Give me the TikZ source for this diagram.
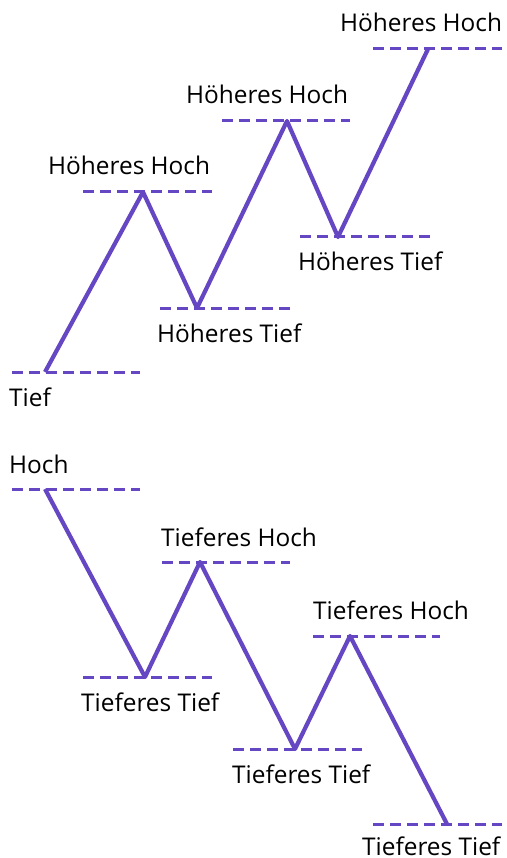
\documentclass[tikz,border=0pt]{standalone}
\usepackage{fontspec}
\setmainfont{Open Sans}
\usetikzlibrary{positioning}
\definecolor{trendviolet}{HTML}{6546C3}
\tikzset{
  level/.style={trendviolet, line width=3pt, dash pattern=on 11pt off 6pt},
  trend/.style={trendviolet, line width=4.2pt, line join=round},
  tag/.style={inner sep=0pt, anchor=base west, font=\fontsize{24.4}{29}\selectfont}
}

\begin{document}
\begin{tikzpicture}[x=1pt, y=-1pt]
      \useasboundingbox (0,0) rectangle (506,858);

      % Aufwaertstrend
      \coordinate (t0) at (45,372);
      \coordinate (h1) at (143,192);
      \coordinate (t1) at (197,308);
      \coordinate (h2) at (287,121);
      \coordinate (t2) at (338,237);
      \coordinate (h3) at (428,49);

      \draw [level] (12,372) -- (140,372);
      \draw [level] (83,192) -- (212,192);
      \draw [level] (160,308) -- (290,308);
      \draw [level] (222,121) -- (350,121);
      \draw [level] (300,237) -- (430,237);
      \draw [level] (373,49) -- (502,49);

      \draw [trend] (t0) -- (h1) -- (t1) -- (h2) -- (t2) -- (h3);

      \node [tag] (tief) at (9,406) {Tief};
      \node [tag] (hh1) at (48,175) {Höheres Hoch};
      \node [tag] (ht1) at (157,342) {Höheres Tief};
      \node [tag] (hh2) at (186,104) {Höheres Hoch};
      \node [tag] (ht2) at (298,271) {Höheres Tief};
      \node [tag] (hh3) at (340,32) {Höheres Hoch};

      % Abwaertstrend
      \coordinate (d0) at (45,489);
      \coordinate (l1) at (145,677);
      \coordinate (u1) at (200,562);
      \coordinate (l2) at (295,749);
      \coordinate (u2) at (350,636);
      \coordinate (l3) at (447,824);

      \draw [level] (12,489) -- (140,489);
      \draw [level] (83,677) -- (212,677);
      \draw [level] (162,562) -- (290,562);
      \draw [level] (233,749) -- (362,749);
      \draw [level] (313,636) -- (440,636);
      \draw [level] (373,824) -- (502,824);

      \draw [trend] (d0) -- (l1) -- (u1) -- (l2) -- (u2) -- (l3);

      \node [tag] (hoch) at (9,473) {Hoch};
      \node [tag] (tt1) at (81,711) {Tieferes Tief};
      \node [tag] (th1) at (161,546) {Tieferes Hoch};
      \node [tag] (tt2) at (232,783) {Tieferes Tief};
      \node [tag] (th2) at (313,619) {Tieferes Hoch};
      \node [tag] (tt3) at (362,855) {Tieferes Tief};
    \end{tikzpicture}
\end{document}
